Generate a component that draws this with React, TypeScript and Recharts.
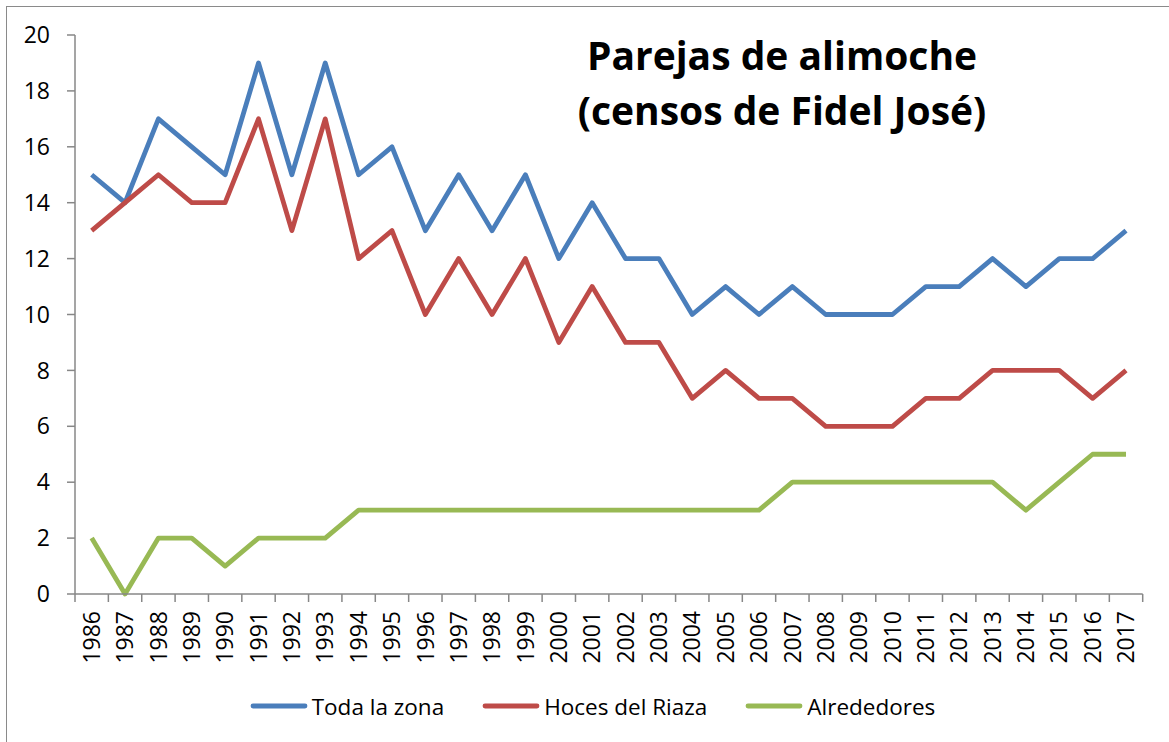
import React from "react";
import { LineChart, Line, XAxis, YAxis, Legend } from "recharts";

const years = [
  "1986","1987","1988","1989","1990","1991","1992","1993","1994","1995","1996",
  "1997","1998","1999","2000","2001","2002","2003","2004","2005","2006","2007",
  "2008","2009","2010","2011","2012","2013","2014","2015","2016","2017",
];
const todaLaZona = [15,14,17,16,15,19,15,19,15,16,13,15,13,15,12,14,12,12,10,11,10,11,10,10,10,11,11,12,11,12,12,13];
const hocesDelRiaza = [13,14,15,14,14,17,13,17,12,13,10,12,10,12,9,11,9,9,7,8,7,7,6,6,6,7,7,8,8,8,7,8];
const alrededores = [2,0,2,2,1,2,2,2,3,3,3,3,3,3,3,3,3,3,3,3,3,4,4,4,4,4,4,4,3,4,5,5];
const yTicks = [0,2,4,6,8,10,12,14,16,18,20];
const titleLines = ["Parejas de alimoche", "(censos de Fidel José)"];

const series = [
  { key: "toda", name: "Toda la zona", color: "#4A7EBB", values: todaLaZona },
  { key: "hoces", name: "Hoces del Riaza", color: "#BE4B48", values: hocesDelRiaza },
  { key: "alr", name: "Alrededores", color: "#98B954", values: alrededores },
];

const data = years.map((y, i) => {
  const row: any = { year: y };
  series.forEach((s) => (row[s.key] = s.values[i]));
  return row;
});

const W = 1169;
const H = 742;
const M = { top: 35, right: 26.3, left: 15, bottom: 38 };
const Y_AXIS_W = 60;
const PLOT_W = W - M.left - Y_AXIS_W - M.right;
const BAND = PLOT_W / years.length;
const FONT = "'Open Sans', sans-serif";
const AXIS_COLOR = "#878787";
const TICK_FONT = 23;

const XTick = (props: any) => {
  const { x, y, payload, index } = props;
  const half = BAND / 2;
  return (
    <g>
      <line x1={x - half} x2={x - half} y1={y} y2={y + 8} stroke={AXIS_COLOR} strokeWidth={1.5} />
      {index === years.length - 1 && (
        <line x1={x + half} x2={x + half} y1={y} y2={y + 8} stroke={AXIS_COLOR} strokeWidth={1.5} />
      )}
      <text
        x={0}
        y={0}
        transform={`translate(${x},${y + 17}) rotate(-90)`}
        textAnchor="end"
        dy="0.355em"
        fontSize={TICK_FONT}
        fontFamily={FONT}
        fill="#000"
      >
        {payload.value}
      </text>
    </g>
  );
};

const renderLegend = () => (
  <div
    style={{
      display: "flex",
      justifyContent: "center",
      alignItems: "center",
      gap: 38,
      height: 30,
      paddingLeft: 16,
      fontFamily: FONT,
      fontSize: 22.5,
      color: "#000",
    }}
  >
    {series.map((s) => (
      <div key={s.key} style={{ display: "flex", alignItems: "center" }}>
        <svg width={58} height={10} style={{ marginRight: 4 }}>
          <line x1={3} x2={55} y1={5} y2={5} stroke={s.color} strokeWidth={4.8} strokeLinecap="round" />
        </svg>
        <span>{s.name}</span>
      </div>
    ))}
  </div>
);

export default function App() {
  return (
    <div style={{ position: "absolute", left: 0, top: 0, width: W, height: H, background: "#fff" }}>
      <div
        style={{
          position: "absolute",
          left: 6,
          top: 6,
          width: W,
          height: H,
          borderLeft: "1px solid #8a8a8a",
          borderTop: "1px solid #8a8a8a",
        }}
      />
      <LineChart width={W} height={H} data={data} margin={M}>
        <XAxis
          dataKey="year"
          interval={0}
          height={80}
          tickSize={0}
          tickMargin={0}
          tickLine={false}
          axisLine={{ stroke: AXIS_COLOR, strokeWidth: 1.5 }}
          padding={{ left: BAND / 2, right: BAND / 2 }}
          tick={<XTick />}
        />
        <YAxis
          width={Y_AXIS_W}
          domain={[0, 20]}
          ticks={yTicks}
          interval={0}
          tickSize={8}
          tickMargin={17}
          axisLine={{ stroke: AXIS_COLOR, strokeWidth: 1.5 }}
          tickLine={{ stroke: AXIS_COLOR, strokeWidth: 1.5 }}
          tick={{ fontSize: TICK_FONT, fontFamily: FONT, fill: "#000" }}
        />
        <Legend
          verticalAlign="bottom"
          content={renderLegend}
          wrapperStyle={{ top: 691, bottom: "auto", left: 0, width: W }}
        />
        {series.map((s) => (
          <Line
            key={s.key}
            dataKey={s.key}
            name={s.name}
            stroke={s.color}
            strokeWidth={4.8}
            strokeLinejoin="round"
            dot={false}
            activeDot={false}
            isAnimationActive={false}
          />
        ))}
      </LineChart>
      <svg
        width={W}
        height={160}
        style={{ position: "absolute", left: 0, top: 0, pointerEvents: "none" }}
      >
        {titleLines.map((t, i) => (
          <text
            key={i}
            x={782}
            y={70 + i * 55}
            textAnchor="middle"
            fontFamily={FONT}
            fontWeight={700}
            fontSize={39}
            fill="#000"
          >
            {t}
          </text>
        ))}
      </svg>
    </div>
  );
}
